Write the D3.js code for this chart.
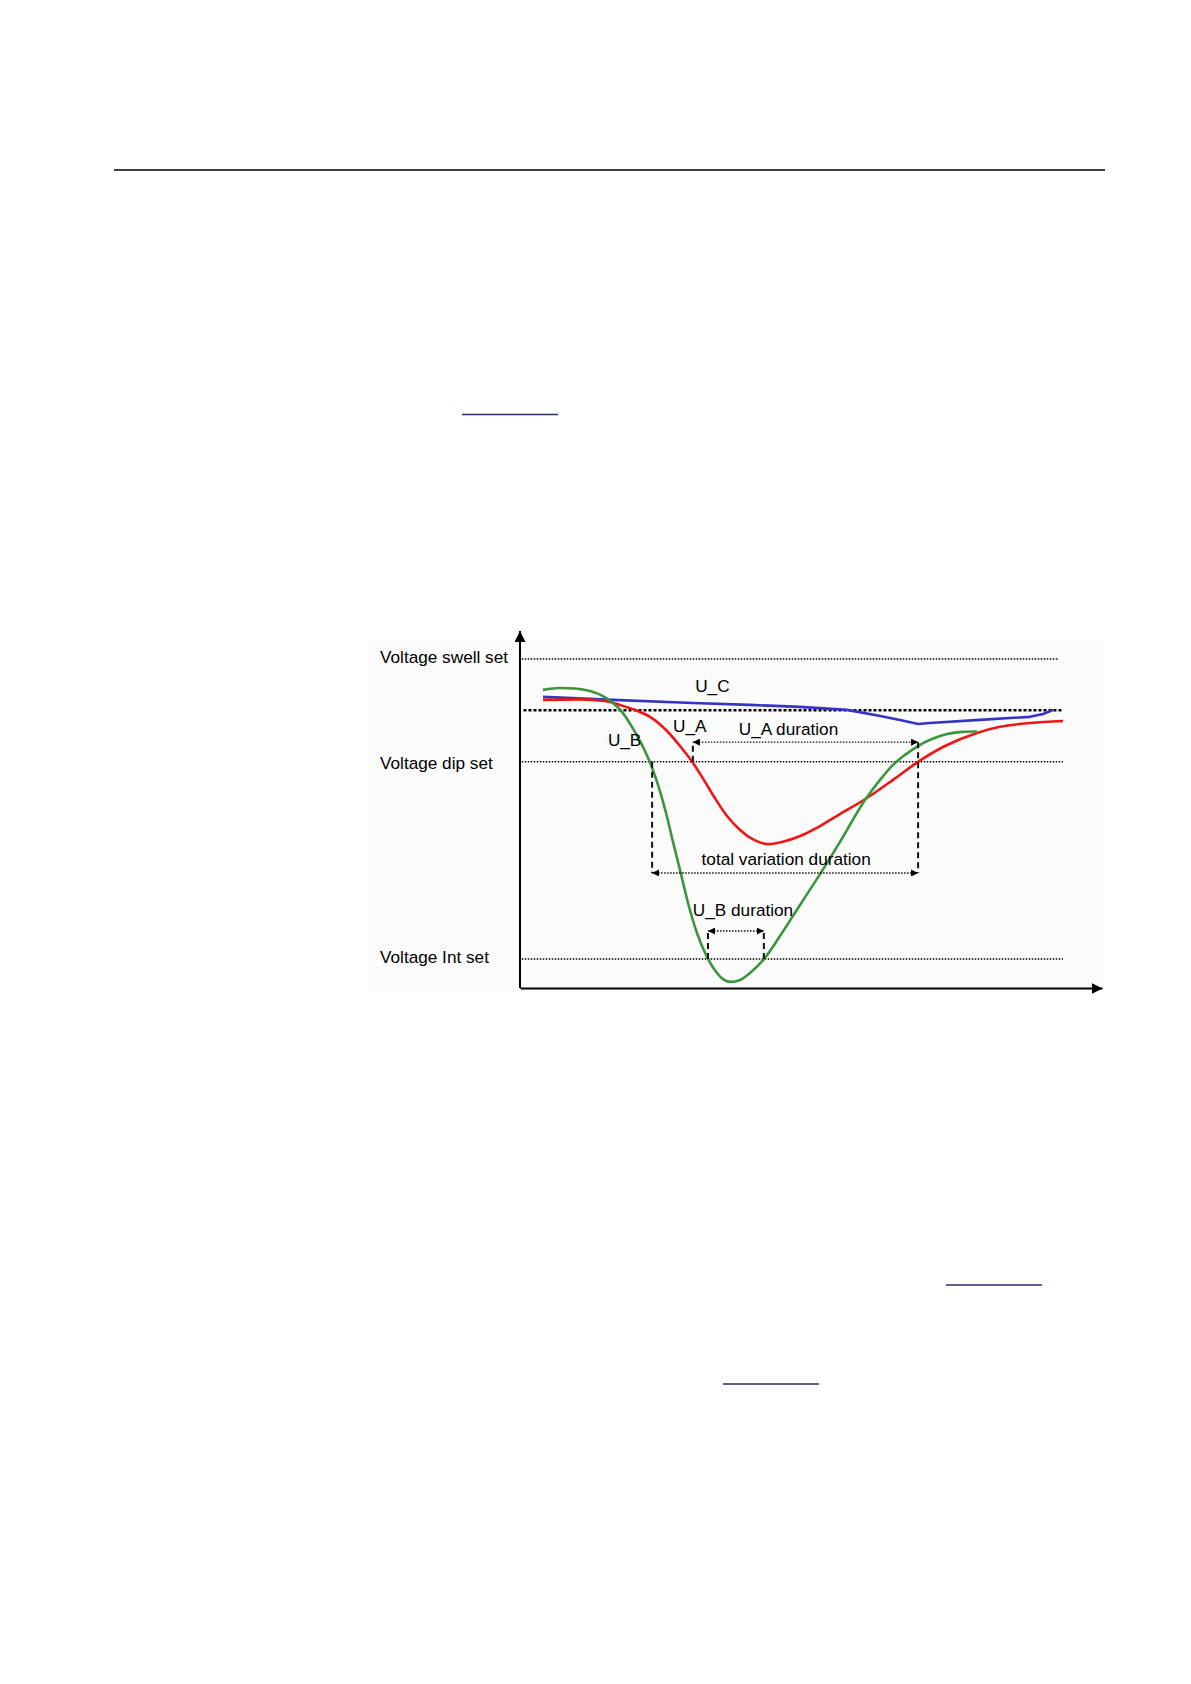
<!DOCTYPE html>
<html>
<head>
<meta charset="utf-8">
<script src="https://cdn.jsdelivr.net/npm/d3@7"></script>
<style>
  html, body { margin: 0; padding: 0; background: #ffffff; }
  svg { display: block; }
  text { font-family: "Liberation Sans", Arial, sans-serif; fill: #000; }
</style>
</head>
<body>
<script>
// ---------- data (time in % of window, voltage in p.u.) ----------
const redT   = [3.95, 10.31, 14.6, 17.18, 19.76, 22.34, 25.26, 27.49, 29.73, 31.79, 33.68, 35.57, 37.8, 40.21, 42.61, 44.67, 48.11, 51.55, 54.98, 59.62, 64.09, 68.38, 73.02, 78.52, 82.47, 87.63, 93.3];
const redV   = [1.037, 1.039, 1.033, 1.019, 1.001, 0.976, 0.925, 0.871, 0.81, 0.742, 0.677, 0.619, 0.569, 0.533, 0.518, 0.524, 0.547, 0.583, 0.626, 0.684, 0.749, 0.814, 0.871, 0.918, 0.94, 0.954, 0.961];
const greenT = [3.95, 6.87, 9.45, 12.03, 14.26, 15.98, 17.53, 19.24, 20.96, 22.51, 23.88, 25.09, 26.29, 27.49, 28.87, 30.41, 32.13, 33.85, 34.88, 36.25, 37.8, 39.52, 41.92, 44.67, 48.11, 51.55, 54.98, 59.28, 61.86, 64.09, 66.15, 68.38, 70.79, 73.37, 75.95, 78.52];
const greenV = [1.073, 1.08, 1.078, 1.069, 1.051, 1.026, 0.994, 0.94, 0.875, 0.803, 0.72, 0.63, 0.526, 0.425, 0.306, 0.198, 0.112, 0.054, 0.032, 0.022, 0.029, 0.054, 0.104, 0.187, 0.299, 0.41, 0.526, 0.677, 0.749, 0.803, 0.839, 0.871, 0.896, 0.914, 0.922, 0.923];
const blueT  = [3.95, 16, 29.7, 39.5, 48.1, 56.2, 61.9, 65.3, 68.4, 70.4, 79, 87.6, 89.9, 91.6];
const blueV  = [1.048, 1.037, 1.026, 1.019, 1.012, 1.001, 0.979, 0.965, 0.95, 0.954, 0.965, 0.976, 0.986, 1.001];

const levelNames  = ["Voltage swell set", "Voltage dip set", "Voltage Int set"];
const levelValues = [1.184, 0.814, 0.104];
const nominalValue = 1.0;

const seriesNames = ["U_A", "U_B", "U_C"];

// duration markers: [startT, endT, barV]
const uaDuration    = [29.7, 68.4, 0.885];
const totalDuration = [22.7, 68.4, 0.414];
const ubDuration    = [32.3, 41.9, 0.205];

const durationLabels = ["U_A duration", "total variation duration", "U_B duration"];

// ---------- drawing ----------
const W = 1191, H = 1684;
const svg = d3.select("body").append("svg").attr("width", W).attr("height", H);

// page decorations
svg.append("line").attr("x1", 114).attr("x2", 1105).attr("y1", 170).attr("y2", 170)
  .attr("stroke", "#000").attr("stroke-width", 1.5);
[[462, 558, 414.5], [946, 1042, 1285], [723, 819, 1384]].forEach(d => {
  svg.append("line").attr("x1", d[0]).attr("x2", d[1]).attr("y1", d[2]).attr("y2", d[2])
    .attr("stroke", "#2e2d6b").attr("stroke-width", 1.4);
});

// faint picture background
svg.append("rect").attr("x", 368).attr("y", 642).attr("width", 736).attr("height", 349)
  .attr("fill", "#fbfbfb");

const x = d3.scaleLinear().domain([0, 100]).range([520, 1102]);
const y = d3.scaleLinear().domain([0, 1.285]).range([988, 631]);

const defs = svg.append("defs");
function marker(id, size) {
  defs.append("marker").attr("id", id).attr("viewBox", "0 0 10 10")
    .attr("refX", 10).attr("refY", 5).attr("markerWidth", size).attr("markerHeight", size)
    .attr("markerUnits", "userSpaceOnUse").attr("orient", "auto-start-reverse")
    .append("path").attr("d", "M0,0 L10,5 L0,10 Z").attr("fill", "#000");
}
marker("bigArrow", 11);
marker("smallArrow", 7);

// axes (no ticks), arrows at ends
const xAxis = svg.append("g").attr("transform", `translate(0,${y(0)})`)
  .call(d3.axisBottom(x).tickValues([]).tickSizeOuter(0));
xAxis.select(".domain").attr("stroke", "#000").attr("stroke-width", 2).attr("marker-end", "url(#bigArrow)");
const yAxis = svg.append("g").attr("transform", `translate(${x(0)},0)`)
  .call(d3.axisLeft(y).tickValues([]).tickSizeOuter(0));
yAxis.select(".domain").attr("stroke", "#000").attr("stroke-width", 2)
  .attr("d", `M0,${y(0)}V${y(1.285)}`).attr("marker-end", "url(#bigArrow)");

// threshold lines
const levelStarts = [0.3, 0.3, 0.3];
const levelEnds = [92.6, 93.3, 93.3];
const labelDy = [4, 7, 4];
levelValues.forEach((v, i) => {
  svg.append("line").attr("x1", x(levelStarts[i])).attr("x2", x(levelEnds[i]))
    .attr("y1", y(v)).attr("y2", y(v))
    .attr("stroke", "#000").attr("stroke-width", 1.5).attr("stroke-dasharray", "1.5,1.5");
  svg.append("text").attr("x", 380).attr("y", y(v) + labelDy[i])
    .attr("font-size", 17.2).text(levelNames[i]);
});
// nominal (thick dotted)
svg.append("line").attr("x1", x(0.6)).attr("x2", x(93.3))
  .attr("y1", y(nominalValue)).attr("y2", y(nominalValue))
  .attr("stroke", "#000").attr("stroke-width", 2.6).attr("stroke-dasharray", "3,2");

// curves
const smooth = d3.line().x(d => x(d[0])).y(d => y(d[1])).curve(d3.curveMonotoneX);
const lineB = d3.line().x(d => x(d[0])).y(d => y(d[1])).curve(d3.curveLinear);
svg.append("path").datum(d3.zip(blueT, blueV)).attr("d", lineB)
  .attr("fill", "none").attr("stroke", "#3434c4").attr("stroke-width", 2.6).attr("stroke-linejoin", "round");
svg.append("path").datum(d3.zip(redT, redV)).attr("d", smooth)
  .attr("fill", "none").attr("stroke", "#ee1515").attr("stroke-width", 2.6);
svg.append("path").datum(d3.zip(greenT, greenV)).attr("d", smooth)
  .attr("fill", "none").attr("stroke", "#3a963a").attr("stroke-width", 2.6);

// duration markers
function vdash(t, v1, v2) {
  svg.append("line").attr("x1", x(t)).attr("x2", x(t)).attr("y1", y(v1)).attr("y2", y(v2))
    .attr("stroke", "#111").attr("stroke-width", 2).attr("stroke-dasharray", "6,4");
}
function hArrow(t1, t2, v) {
  svg.append("line").attr("x1", x(t1)).attr("x2", x(t2)).attr("y1", y(v)).attr("y2", y(v))
    .attr("stroke", "#111").attr("stroke-width", 1.4).attr("stroke-dasharray", "1.5,1.5")
    .attr("marker-start", "url(#smallArrow)").attr("marker-end", "url(#smallArrow)");
}
// U_A duration
vdash(uaDuration[0], levelValues[1], uaDuration[2]);
vdash(uaDuration[1], uaDuration[2], totalDuration[2]);
hArrow(uaDuration[0], uaDuration[1], uaDuration[2]);
// total
vdash(totalDuration[0], levelValues[1], totalDuration[2]);
hArrow(totalDuration[0], totalDuration[1], totalDuration[2]);
// U_B duration
vdash(ubDuration[0], levelValues[2], ubDuration[2]);
vdash(ubDuration[1], levelValues[2], ubDuration[2]);
hArrow(ubDuration[0], ubDuration[1], ubDuration[2]);

// labels
const lbl = (t, v, s) => svg.append("text").attr("x", x(t)).attr("y", y(v)).attr("font-size", 17.2).text(s);
lbl(15.1, 0.871, seriesNames[1]);   // U_B
lbl(26.3, 0.922, seriesNames[0]);   // U_A
lbl(30.1, 1.066, seriesNames[2]);   // U_C
lbl(37.6, 0.911, durationLabels[0]);
lbl(31.2, 0.443, durationLabels[1]);
lbl(29.7, 0.259, durationLabels[2]);
</script>
</body>
</html>
